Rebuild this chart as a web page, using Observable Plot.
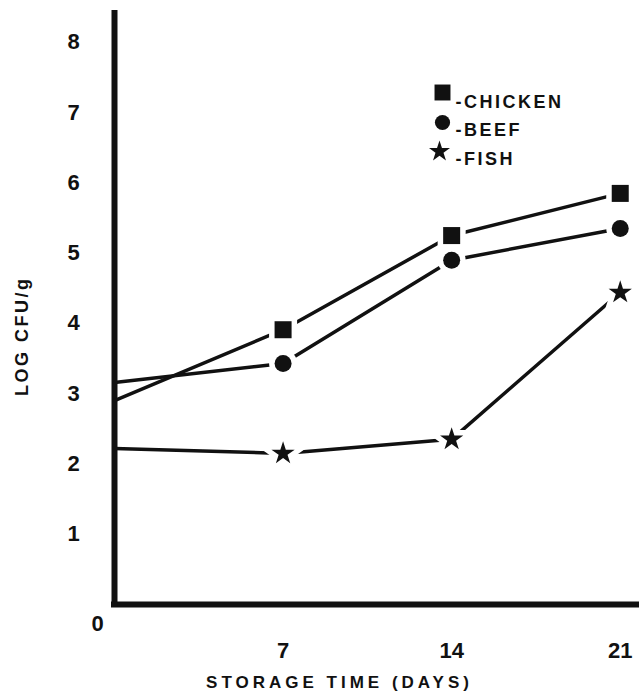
<!DOCTYPE html>
<html><head><meta charset="utf-8">
<script src="https://cdn.jsdelivr.net/npm/d3@7"></script>
<script src="https://cdn.jsdelivr.net/npm/@observablehq/plot@0.6"></script>
<style>
body{margin:0;background:#fff}
</style>
</head><body><div id="chart"></div>
<script>
const days = [0, 7, 14, 21];
const chicken = [2.90, 3.91, 5.25, 5.85];
const beef = [3.16, 3.43, 4.90, 5.35];
const fish = [2.22, 2.15, 2.35, 4.44];
const seriesNames = ["CHICKEN", "BEEF", "FISH"];
const seriesSymbols = ["square", "circle", "star"];
const yTicks = [1, 2, 3, 4, 5, 6, 7, 8];
const xTicks = [7, 14, 21];
const originLabel = [0];
const xTitle = "STORAGE TIME (DAYS)";
const yTitle = "LOG CFU/g";

const seriesValues = [chicken, beef, fish];
const rows = seriesNames.flatMap((name, i) =>
  days.map((d, j) => ({series: name, day: d, value: seriesValues[i][j]})));

const FONT = "Liberation Sans, Arial, sans-serif";
const chartR = [9.6, 8.5, 7.3];
const legendR = [9, 7.6, 6.6];

const marks = [
  Plot.ruleY([0], {stroke: "#111", strokeWidth: 6, strokeLinecap: "square"}),
  Plot.ruleX([0], {stroke: "#111", strokeWidth: 6, strokeLinecap: "square"}),
  Plot.line(rows, {x: "day", y: "value", z: "series", stroke: "#111", strokeWidth: 3.5}),
];
seriesNames.forEach((name, i) => {
  marks.push(Plot.dot(rows.filter(r => r.series === name && r.day > 0), {
    x: "day", y: "value", symbol: () => seriesSymbols[i], r: chartR[i],
    fill: "#111", stroke: "white", strokeWidth: 11, paintOrder: "stroke"
  }));
  marks.push(Plot.dot([name], {
    frameAnchor: "top-left", dx: i === 2 ? 325 : 328, dy: [79, 109, 138][i],
    symbol: () => seriesSymbols[i], r: legendR[i], fill: "#111", stroke: "none"
  }));
  marks.push(Plot.text([name], {
    frameAnchor: "top-left", dx: 341, dy: [82, 110, 139][i], text: d => "-" + d,
    textAnchor: "start", fontSize: 18, fontWeight: "bold", fontFamily: FONT, fill: "#111"
  }));
});
marks.push(
  Plot.axisY(yTicks, {tickSize: 0, tickPadding: 41, textAnchor: "middle", tickFormat: d => String(d), fontSize: 22, fontWeight: "bold", fontFamily: FONT, fill: "#111", label: null}),
  Plot.axisX(xTicks, {tickSize: 0, tickPadding: 38, tickFormat: d => String(d), fontSize: 22, fontWeight: "bold", fontFamily: FONT, fill: "#111", label: null}),
  Plot.text(originLabel, {x: d => d, y: d => d, text: d => String(d), dx: -17, dy: 19, fontSize: 22, fontWeight: "bold", fontFamily: FONT, fill: "#111"}),
  Plot.text([xTitle], {frameAnchor: "bottom", dx: -37.5, dy: 83, fontSize: 17, fontWeight: "bold", fontFamily: FONT, fill: "#111"}),
  Plot.text([yTitle], {frameAnchor: "left", rotate: -90, dx: -92, dy: 87, fontSize: 18, fontWeight: "bold", fontFamily: FONT, fill: "#111"})
);

const chart = Plot.plot({
  width: 639,
  height: 698,
  marginLeft: 114,
  marginRight: 0,
  marginTop: 13,
  marginBottom: 94,
  x: {domain: [0, 21.8], axis: null},
  y: {domain: [0, 8.41], axis: null},
  style: {fontFamily: FONT, background: "white", overflow: "visible"},
  marks
});
const spacing = new Map([[xTitle, "4px"], [yTitle, "2.5px"]]);
seriesNames.forEach(n => spacing.set("-" + n, "2.5px"));
d3.select(chart).selectAll("text").each(function() {
  const s = spacing.get(this.textContent);
  if (s) this.style.letterSpacing = s;
});
document.getElementById("chart").append(chart);
</script>
</body></html>
